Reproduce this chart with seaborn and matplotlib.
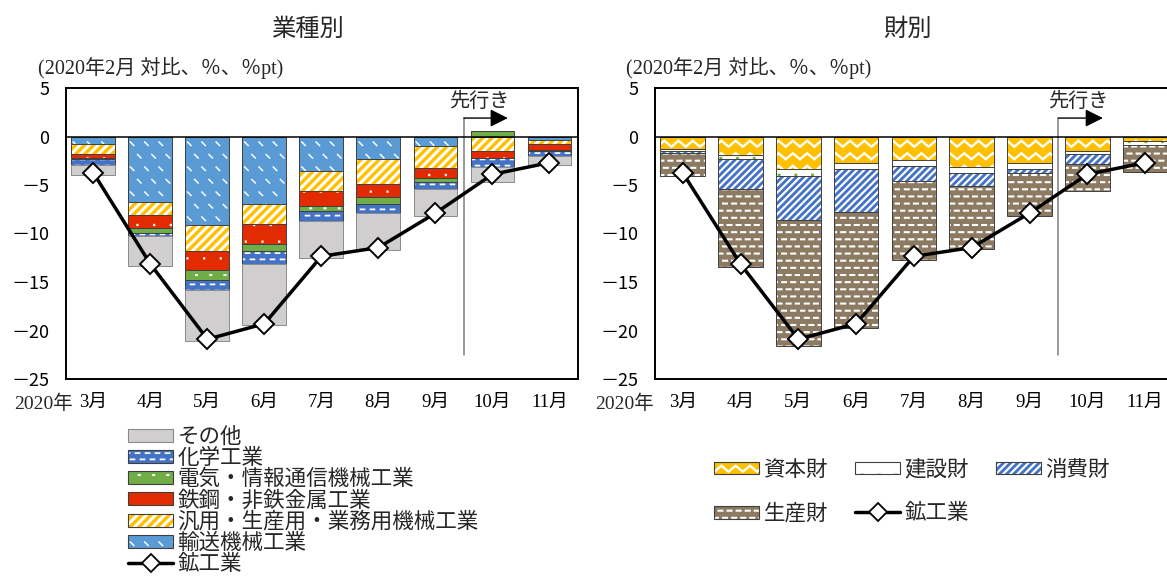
import numpy as np
import matplotlib
matplotlib.use("Agg")
import matplotlib.pyplot as plt
import matplotlib.hatch as mhatch
from matplotlib.path import Path
from matplotlib.patches import Patch
from matplotlib.lines import Line2D
from matplotlib.legend_handler import HandlerTuple
from matplotlib.ticker import FuncFormatter
from matplotlib.transforms import blended_transform_factory
import seaborn as sns

# ---------------------------------------------------------------- data
months = ["3月", "4月", "5月", "6月", "7月", "8月", "9月", "10月", "11月"]
year_label = "2020年"
n_actual = 7  # Mar-Sep are actual figures, Oct-Nov are forecasts

# 鉱工業 (total, 2020年2月対比 %)
mining_total = [-3.75, -13.15, -20.9, -19.3, -12.35, -11.45, -7.9, -3.9, -2.7]

# 業種別 contributions (%pt)
transport = [-0.8, -6.8, -9.1, -6.95, -3.55, -2.3, -0.95, 0.0, -0.35]
general_machinery = [-1.0, -1.25, -2.7, -2.05, -2.05, -2.6, -2.25, -1.45, -0.45]
steel = [-0.45, -1.35, -1.95, -2.05, -1.6, -1.3, -1.05, -0.8, -0.6]
electrical = [-0.1, -0.5, -1.05, -0.8, -0.5, -0.75, -0.45, 0.55, -0.05]
chemical = [-0.55, -0.4, -1.05, -1.25, -1.05, -0.9, -0.7, -0.85, -0.55]
others = [-1.1, -3.0, -5.2, -6.3, -3.8, -3.8, -2.8, -1.6, -0.9]

# 財別 contributions (%pt)
capital_goods = [-1.3, -1.95, -3.35, -2.7, -2.45, -3.1, -2.75, -1.5, -0.5]
construction_goods = [-0.15, -0.35, -0.7, -0.65, -0.6, -0.7, -0.6, -0.3, -0.35]
consumer_goods = [-0.3, -3.1, -4.55, -4.4, -1.55, -1.35, -0.45, -1.0, -0.05]
producer_goods = [-2.3, -8.05, -13.0, -11.95, -8.1, -6.45, -4.4, -2.8, -2.75]

industry_labels = ["輸送機械工業", "汎用・生産用・業務用機械工業", "鉄鋼・非鉄金属工業",
                   "電気・情報通信機械工業", "化学工業", "その他"]
goods_labels = ["資本財", "建設財", "消費財", "生産財"]
total_label = "鉱工業"


# ---------------------------------------------------------------- fill patterns
def _stroke(p0, p1, t):
    """Thin quadrilateral following the segment p0-p1 with thickness t."""
    p0 = np.asarray(p0, float)
    p1 = np.asarray(p1, float)
    d = p1 - p0
    d = d / np.hypot(*d)
    nrm = np.array([-d[1], d[0]]) * t / 2
    return [p0 + nrm, p1 + nrm, p1 - nrm, p0 - nrm]


def _marks(ncol, nrow, dx, dy, t, stagger=True):
    polys = []
    for r in range(nrow):
        shift = 0.5 if (stagger and r % 2) else 0.0
        for c in range(ncol):
            cx = (c + 0.25 + shift) / ncol
            cy = (r + 0.5) / nrow
            polys.append(_stroke((cx - dx / 2, cy - dy / 2), (cx + dx / 2, cy + dy / 2), t))
    return polys


def _stripes(n, w):
    polys = []
    for k in range(-n - 1, n + 2):
        c = k / n
        polys.append([(-0.1, c - 0.1), (1.1, c + 1.1), (1.1, c + 1.1 + w), (-0.1, c - 0.1 + w)])
    return polys


def _zigzag(nrow, ncol, amp, t):
    polys = []
    xs = np.linspace(0, 1, 2 * ncol + 1)
    for r in range(nrow):
        y0 = (r + 0.5) / nrow - amp / 2
        ys = y0 + np.where(np.arange(len(xs)) % 2 == 1, amp, 0.0)
        upper = list(zip(xs, ys + t / 2))
        lower = list(zip(xs[::-1], ys[::-1] - t / 2))
        polys.append(upper + lower)
    return polys


def _to_path(polys):
    verts, codes = [], []
    for p in polys:
        p = [tuple(v) for v in p]
        verts.extend(p + [p[0]])
        codes.extend([Path.MOVETO] + [Path.LINETO] * (len(p) - 1) + [Path.CLOSEPOLY])
    return np.array(verts, float), np.array(codes, dtype=Path.code_type)


TILES = {
    "\\o": _to_path(_marks(7, 8, 0.045, -0.045, 0.014)),      # short diagonal dashes
    "/o": _to_path(_stripes(11, 0.042)),                        # bold diagonal stripes
    ".o": _to_path(_marks(6, 6, 0.022, 0.0, 0.022)),            # sparse dots
    ".O": _to_path(_marks(7, 6, 0.03, 0.0, 0.02)),              # sparse specks
    "-o": _to_path(_marks(10, 16, 0.055, 0.0, 0.017)),          # horizontal dashes
    "xo": _to_path(_zigzag(8, 7, 0.06, 0.03)),                  # waves
    "xO": _to_path(_marks(6, 6, 0.028, 0.0, 0.028)),            # green dots
    "/O": _to_path(_stripes(14, 0.03)),                         # fine diagonal stripes
    "-O": _to_path(_marks(11, 14, 0.06, 0.0, 0.02)),            # brick pattern
}

_builtin_types = list(mhatch._hatch_types)


class _TilePattern(mhatch.HatchPatternBase):
    def __init__(self, hatch, density):
        if hatch in TILES:
            self.verts, self.codes = TILES[hatch]
        else:
            parts = [h(hatch, density) for h in _builtin_types]
            n = sum(p.num_vertices for p in parts)
            self.verts = np.empty((n, 2))
            self.codes = np.empty(n, Path.code_type)
            cur = 0
            for p in parts:
                if p.num_vertices:
                    p.set_vertices_and_codes(self.verts[cur:cur + p.num_vertices],
                                             self.codes[cur:cur + p.num_vertices])
                    cur += p.num_vertices
        self.num_vertices = len(self.verts)

    def set_vertices_and_codes(self, vertices, codes):
        vertices[:] = self.verts
        codes[:] = self.codes


mhatch._hatch_types[:] = [_TilePattern]

# ---------------------------------------------------------------- styles
sns.set_theme(style="white")
plt.rcParams["font.family"] = ["Liberation Serif", "Noto Sans CJK JP", "DejaVu Sans"]
plt.rcParams["hatch.linewidth"] = 0.05

BAR_W = 0.77
OUTLINE = "#3f3f3f"
industry_styles = [
    ("#5B9BD5", "\\o", "white"),
    ("#FFC000", "/o", "white"),
    ("#E22B00", ".o", "white"),
    ("#70AD47", ".O", "white"),
    ("#4472C4", "-o", "white"),
    ("#D0CECE", None, "white"),
]
goods_styles = [
    ("#FFC000", "xo", "white"),
    ("#FFFFFF", "xO", "#70AD47"),
    ("#4472C4", "/O", "white"),
    ("#8C7B62", "-O", "white"),
]

fig = plt.figure(figsize=(11.67, 5.78), dpi=100)
W, H = 1167, 578
ax_l = fig.add_axes([66 / W, 1 - 379 / H, 512 / W, 291 / H])
ax_r = fig.add_axes([655 / W, 1 - 379 / H, 519 / W, 291 / H])

# y labels use a full-width minus sign
ytick_fmt = FuncFormatter(lambda v, _: f"\uff0d{abs(v):g}" if v < 0 else f"{v:g}")


def draw_panel(ax, series, styles, text_dx, year_dx):
    n = len(months)
    pos = np.zeros(n)
    neg = np.zeros(n)
    for vals, (face, hatch, hcol) in zip(series, styles):
        v = np.asarray(vals, float)
        bottom = np.where(v >= 0, pos, neg)
        sns.barplot(x=months, y=v, order=months, bottom=bottom, color=face,
                    saturation=1, width=BAR_W, edgecolor=hcol, linewidth=0,
                    hatch=hatch, errorbar=None, ax=ax)
        edge = "#8a8a8a" if hatch is None else OUTLINE
        sns.barplot(x=months, y=v, order=months, bottom=bottom, color=edge,
                    fill=False, width=BAR_W, linewidth=0.7, errorbar=None, ax=ax)
        pos = pos + np.clip(v, 0, None)
        neg = neg + np.clip(v, None, 0)

    ax.axhline(0, color="black", lw=1.1, zorder=3)
    sns.lineplot(x=np.arange(n), y=mining_total, sort=False, color="black",
                 linewidth=2.5, marker="D", markersize=10.5, markerfacecolor="white",
                 markeredgecolor="black", markeredgewidth=1.4, ax=ax, zorder=6)

    ax.set_xlim(-0.48, n - 0.5)
    ax.set_ylim(-25, 5)
    ax.set_yticks(range(-25, 6, 5))
    ax.yaxis.set_major_formatter(ytick_fmt)
    ax.set_xticks(range(n))
    ax.set_xticklabels(months)
    ax.set_xlabel("")
    ax.set_ylabel("")
    ax.tick_params(axis="x", length=0, pad=11, labelsize=13.5, colors="black")
    ax.tick_params(axis="y", length=0, pad=12, labelsize=13, colors="black",
                   labelfontfamily="Noto Sans CJK JP")
    for sp in ax.spines.values():
        sp.set_visible(True)
        sp.set_color("black")
        sp.set_linewidth(1.4)
    ax.grid(False)

    # forecast boundary with arrow
    boundary = n_actual - 0.5
    ax.plot([boundary, boundary], [1.9, -22.5], color="#7f7f7f", lw=1.1, zorder=2)
    ax.annotate("", xy=(boundary + 0.77, 1.9), xytext=(boundary, 1.9),
                arrowprops=dict(arrowstyle="-|>,head_length=0.9,head_width=0.45",
                                color="black", lw=1.0, shrinkA=0, shrinkB=0))
    ax.text(boundary + text_dx, 3.55, "先行き", ha="center", va="center", fontsize=14.5)

    trans = blended_transform_factory(ax.transData, ax.transAxes)
    ax.text(year_dx, -11 * (100 / 72) / 291, year_label, transform=trans,
            ha="right", va="top", fontsize=14)


draw_panel(ax_l, [transport, general_machinery, steel, electrical, chemical, others],
           industry_styles, 0.27, -0.36)
draw_panel(ax_r, [capital_goods, construction_goods, consumer_goods, producer_goods],
           goods_styles, 0.35, -0.5)

# titles and unit labels
fig.text(307 / W, 1 - 30 / H, "業種別", ha="center", va="center", fontsize=17.5)
fig.text(907 / W, 1 - 30 / H, "財別", ha="center", va="center", fontsize=17.5)
unit_text = "(2020年2月 対比、％、％pt)"
fig.text(38 / W, 1 - 68 / H, unit_text, ha="left", va="center", fontsize=14.5)
fig.text(626 / W, 1 - 68 / H, unit_text, ha="left", va="center", fontsize=14.5)


# legends
def patch_handle(face, hatch, hcol, edge):
    return (Patch(facecolor=face, edgecolor=hcol, linewidth=0, hatch=hatch),
            Patch(facecolor="none", edgecolor=edge, linewidth=0.8))


line_handle = Line2D([], [], color="black", lw=2.5, marker="D", markersize=9.5,
                     markerfacecolor="white", markeredgecolor="black", markeredgewidth=1.3)

LEG_FS = 15.5
ind_handles = [patch_handle(f, h, c, "#8a8a8a" if h is None else OUTLINE)
               for f, h, c in industry_styles]
left_handles = ind_handles[::-1] + [line_handle]
left_labels = industry_labels[::-1] + [total_label]
fig.legend(left_handles, left_labels, loc="upper left",
           bbox_to_anchor=(128 / W, 1 - 428 / H), frameon=False, fontsize=LEG_FS,
           handlelength=2.1, handleheight=0.55, handletextpad=0.2, labelspacing=0.03,
           borderpad=0, borderaxespad=0,
           handler_map={tuple: HandlerTuple(ndivide=1, pad=0)})

g_handles = [patch_handle(f, h, c, OUTLINE) for f, h, c in goods_styles]
right_handles = [g_handles[0], g_handles[3], g_handles[1], line_handle, g_handles[2]]
right_labels = [goods_labels[0], goods_labels[3], goods_labels[1], total_label, goods_labels[2]]
fig.legend(right_handles, right_labels, loc="upper left", ncol=3,
           bbox_to_anchor=(714 / W, 1 - 460 / H), frameon=False, fontsize=LEG_FS,
           handlelength=2.1, handleheight=0.55, handletextpad=0.2, labelspacing=1.1,
           columnspacing=1.25, borderpad=0, borderaxespad=0,
           handler_map={tuple: HandlerTuple(ndivide=1, pad=0)})

fig.savefig("out.png", dpi=100, facecolor="white")
